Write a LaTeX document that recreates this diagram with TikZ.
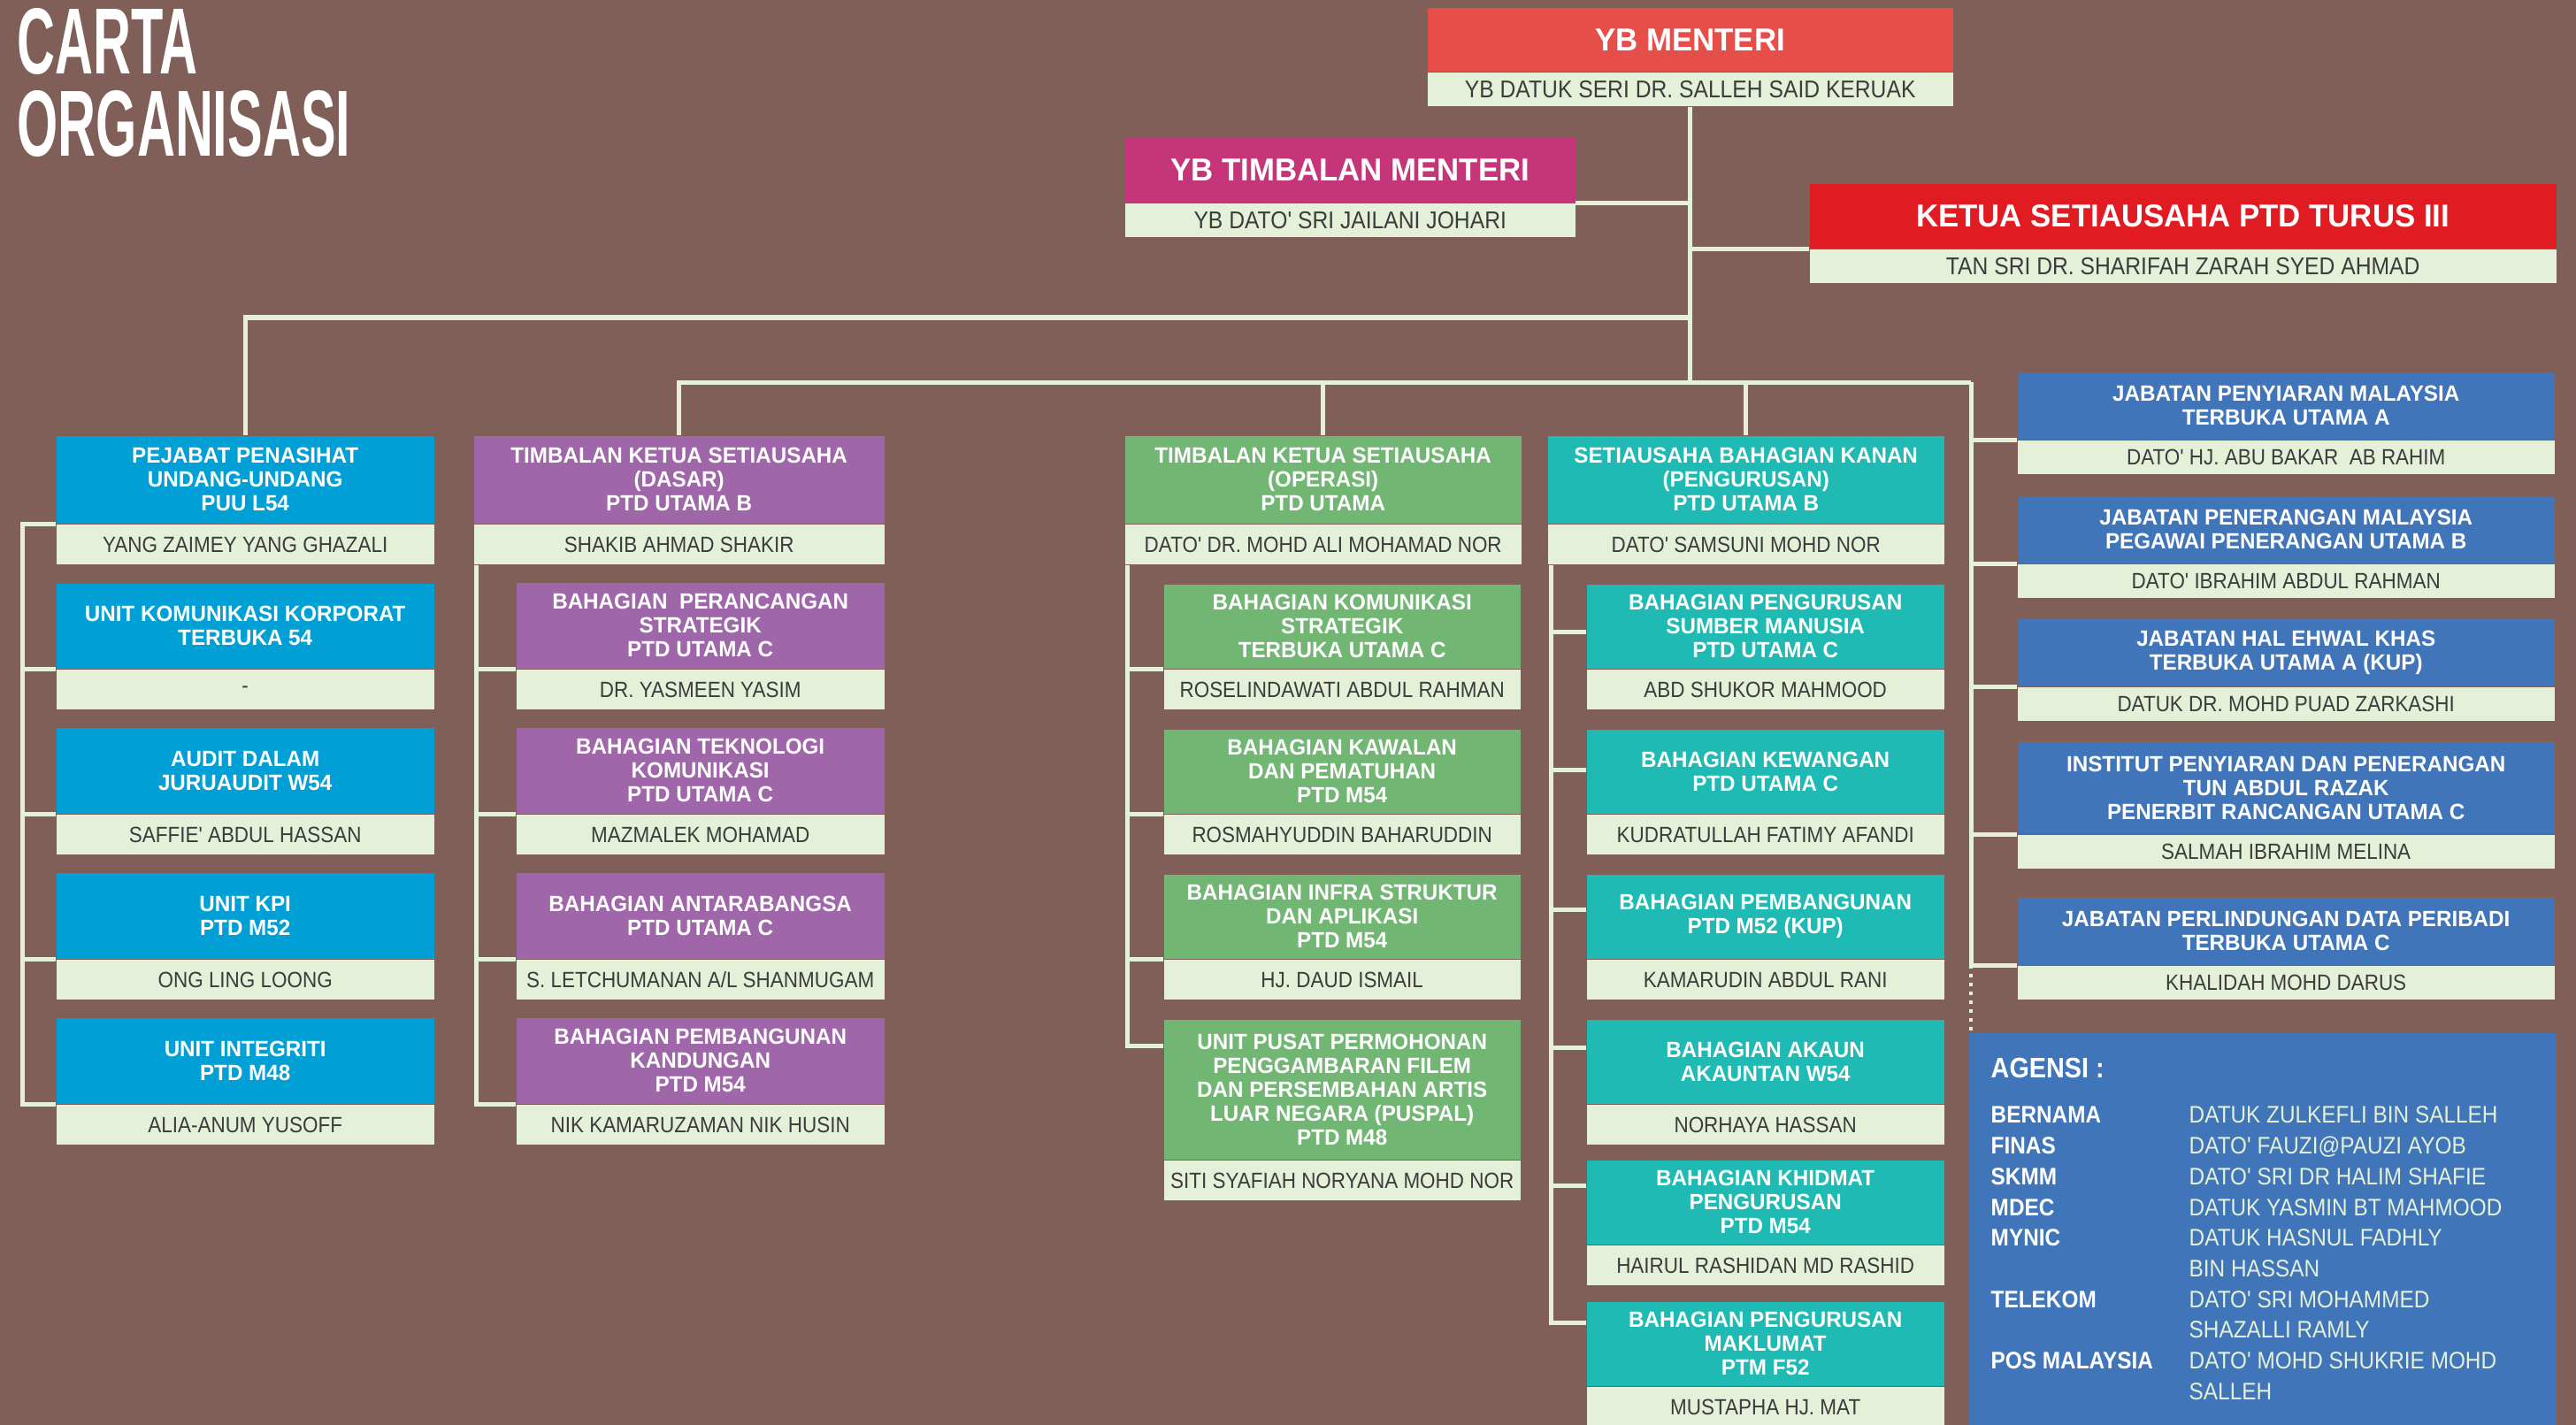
\documentclass[tikz,border=0pt]{standalone}
\usepackage{fontspec}
\usepackage{array}
\setmainfont{Liberation Sans}
\newfontfamily\hdfont{Liberation Sans}[FakeStretch=0.97]
\newfontfamily\nmfont{Liberation Sans}[FakeStretch=0.9]
\newfontfamily\ttlfont{Liberation Sans}[FakeStretch=0.56]

\definecolor{bgbrown}{HTML}{7F5F58}
\definecolor{cream}{HTML}{E4F0D8}
\definecolor{ink}{HTML}{3C3C3C}
\definecolor{mred}{HTML}{E64E4A}
\definecolor{mpink}{HTML}{C43679}
\definecolor{kred}{HTML}{E01B22}
\definecolor{cblue}{HTML}{00A0D6}
\definecolor{cpurple}{HTML}{A066AA}
\definecolor{cgreen}{HTML}{71B673}
\definecolor{cteal}{HTML}{1FBAB3}
\definecolor{cjab}{HTML}{4075BA}

\tikzset{
    hd/.style={text=white, font=\hdfont\bfseries\fontsize{7.1}{7.7}\selectfont, align=center, inner sep=0pt, anchor=north west},
    hdtop/.style={hd, font=\hdfont\bfseries\fontsize{10.2}{11}\selectfont},
    nm/.style={fill=cream, text=ink, font=\nmfont\fontsize{7.1}{8}\selectfont, inner sep=0pt, minimum height=0.45cm, anchor=north},
    nmr/.style={nm, minimum height=0.38cm},
    nmtop/.style={nmr, font=\nmfont\fontsize{7.8}{8.5}\selectfont},
    blueunit/.style={hd, fill=cblue},
    purpleunit/.style={hd, fill=cpurple},
    greenunit/.style={hd, fill=cgreen},
    tealunit/.style={hd, fill=cteal},
    jabunit/.style={hd, fill=cjab},
    link/.style={draw=cream, line width=0.05cm},
    dotline/.style={draw=cream, line width=0.045cm, dash pattern=on 0.04cm off 0.06cm},
    ttl/.style={text=white, font=\ttlfont\bfseries\fontsize{30.2}{26.5}\selectfont, align=left, inner sep=0pt, anchor=north west},
}

% header box + name strip under it
\newcommand{\unitbox}[8][nm]{%
  \node[#6, minimum width=#4cm, minimum height=#5cm] (#2) at (#3) {#7};
  \node[#1, minimum width=#4cm] (#2n) at (#2.south) {#8};%
}

\begin{document}
\begin{tikzpicture}
\useasboundingbox (0,0) rectangle (29.12,-16.11);
\clip (0,0) rectangle (29.12,-16.11);
\fill[bgbrown] (0,0) rectangle (29.12,-16.11);

\node[ttl] (carta) at (0.19,-0.09) {CARTA\\ORGANISASI};

\unitbox[nmtop]{menteri}{16.13,-0.08}{5.94}{0.72}{hdtop,fill=mred}{YB MENTERI}{YB DATUK SERI DR. SALLEH SAID KERUAK}
\unitbox[nmtop]{tmenteri}{12.71,-1.55}{5.09}{0.73}{hdtop,fill=mpink}{YB TIMBALAN MENTERI}{YB DATO' SRI JAILANI JOHARI}
\unitbox[nmtop]{ketua}{20.45,-2.07}{8.44}{0.73}{hdtop,fill=kred}{KETUA SETIAUSAHA PTD TURUS III}{TAN SRI DR. SHARIFAH ZARAH SYED AHMAD}

\unitbox{puu}{0.63,-4.92}{4.27}{0.99}{blueunit}{PEJABAT PENASIHAT\\UNDANG-UNDANG\\PUU L54}{YANG ZAIMEY YANG GHAZALI}
\unitbox{ukk}{0.63,-6.59}{4.27}{0.96}{blueunit}{UNIT KOMUNIKASI KORPORAT\\TERBUKA 54}{-}
\unitbox{audit}{0.63,-8.22}{4.27}{0.97}{blueunit}{AUDIT DALAM\\JURUAUDIT W54}{SAFFIE' ABDUL HASSAN}
\unitbox{kpi}{0.63,-9.86}{4.27}{0.97}{blueunit}{UNIT KPI\\PTD M52}{ONG LING LOONG}
\unitbox{integriti}{0.63,-11.50}{4.27}{0.97}{blueunit}{UNIT INTEGRITI\\PTD M48}{ALIA-ANUM YUSOFF}

\unitbox{dasar}{5.35,-4.92}{4.64}{0.99}{purpleunit}{TIMBALAN KETUA SETIAUSAHA\\(DASAR)\\PTD UTAMA B}{SHAKIB AHMAD SHAKIR}
\unitbox{strategik}{5.83,-6.58}{4.16}{0.97}{purpleunit}{BAHAGIAN \ PERANCANGAN\\STRATEGIK\\PTD UTAMA C}{DR. YASMEEN YASIM}
\unitbox{teknologi}{5.83,-8.22}{4.16}{0.97}{purpleunit}{BAHAGIAN TEKNOLOGI\\KOMUNIKASI\\PTD UTAMA C}{MAZMALEK MOHAMAD}
\unitbox{antarabangsa}{5.83,-9.86}{4.16}{0.97}{purpleunit}{BAHAGIAN ANTARABANGSA\\PTD UTAMA C}{S. LETCHUMANAN A/L SHANMUGAM}
\unitbox{kandungan}{5.83,-11.50}{4.16}{0.97}{purpleunit}{BAHAGIAN PEMBANGUNAN\\KANDUNGAN\\PTD M54}{NIK KAMARUZAMAN NIK HUSIN}

\unitbox{operasi}{12.71,-4.92}{4.48}{0.99}{greenunit}{TIMBALAN KETUA SETIAUSAHA\\(OPERASI)\\PTD UTAMA}{DATO' DR. MOHD ALI MOHAMAD NOR}
\unitbox{komstrat}{13.15,-6.60}{4.03}{0.95}{greenunit}{BAHAGIAN KOMUNIKASI\\STRATEGIK\\TERBUKA UTAMA C}{ROSELINDAWATI ABDUL RAHMAN}
\unitbox{kawalan}{13.15,-8.24}{4.03}{0.95}{greenunit}{BAHAGIAN KAWALAN\\DAN PEMATUHAN\\PTD M54}{ROSMAHYUDDIN BAHARUDDIN}
\unitbox{infra}{13.15,-9.88}{4.03}{0.95}{greenunit}{BAHAGIAN INFRA STRUKTUR\\DAN APLIKASI\\PTD M54}{HJ. DAUD ISMAIL}
\unitbox{puspal}{13.15,-11.52}{4.03}{1.58}{greenunit}{UNIT PUSAT PERMOHONAN\\PENGGAMBARAN FILEM\\DAN PERSEMBAHAN ARTIS\\LUAR NEGARA (PUSPAL)\\PTD M48}{SITI SYAFIAH NORYANA MOHD NOR}

\unitbox{pengurusan}{17.49,-4.92}{4.48}{0.99}{tealunit}{SETIAUSAHA BAHAGIAN KANAN\\(PENGURUSAN)\\PTD UTAMA B}{DATO' SAMSUNI MOHD NOR}
\unitbox{sumber}{17.93,-6.60}{4.04}{0.95}{tealunit}{BAHAGIAN PENGURUSAN\\SUMBER MANUSIA\\PTD UTAMA C}{ABD SHUKOR MAHMOOD}
\unitbox{kewangan}{17.93,-8.24}{4.04}{0.95}{tealunit}{BAHAGIAN KEWANGAN\\PTD UTAMA C}{KUDRATULLAH FATIMY AFANDI}
\unitbox{pembangunan}{17.93,-9.88}{4.04}{0.95}{tealunit}{BAHAGIAN PEMBANGUNAN\\PTD M52 (KUP)}{KAMARUDIN ABDUL RANI}
\unitbox{akaun}{17.93,-11.52}{4.04}{0.95}{tealunit}{BAHAGIAN AKAUN\\AKAUNTAN W54}{NORHAYA HASSAN}
\unitbox{khidmat}{17.93,-13.11}{4.04}{0.95}{tealunit}{BAHAGIAN KHIDMAT\\PENGURUSAN\\PTD M54}{HAIRUL RASHIDAN MD RASHID}
\unitbox{maklumat}{17.93,-14.71}{4.04}{0.95}{tealunit}{BAHAGIAN PENGURUSAN\\MAKLUMAT\\PTM F52}{MUSTAPHA HJ. MAT}

\unitbox[nmr]{penyiaran}{22.80,-4.20}{6.07}{0.76}{jabunit}{JABATAN PENYIARAN MALAYSIA\\TERBUKA UTAMA A}{DATO' HJ. ABU BAKAR \ AB RAHIM}
\unitbox[nmr]{penerangan}{22.80,-5.60}{6.07}{0.76}{jabunit}{JABATAN PENERANGAN MALAYSIA\\PEGAWAI PENERANGAN UTAMA B}{DATO' IBRAHIM ABDUL RAHMAN}
\unitbox[nmr]{ehwal}{22.80,-6.99}{6.07}{0.76}{jabunit}{JABATAN HAL EHWAL KHAS\\TERBUKA UTAMA A (KUP)}{DATUK DR. MOHD PUAD ZARKASHI}
\unitbox[nmr]{institut}{22.80,-8.38}{6.07}{1.04}{jabunit}{INSTITUT PENYIARAN DAN PENERANGAN\\TUN ABDUL RAZAK\\PENERBIT RANCANGAN UTAMA C}{SALMAH IBRAHIM MELINA}
\unitbox[nmr]{perlindungan}{22.80,-10.14}{6.07}{0.76}{jabunit}{JABATAN PERLINDUNGAN DATA PERIBADI\\TERBUKA UTAMA C}{KHALIDAH MOHD DARUS}

\node[fill=cjab, anchor=north west, inner sep=0pt, minimum width=6.64cm, minimum height=4.6cm] (agensi) at (22.25,-11.67) {};
\node[anchor=base west, inner sep=0pt, text=white, font=\nmfont\bfseries\fontsize{9.1}{10}\selectfont] (agtitle) at (22.50,-12.18) {AGENSI :};
\node[anchor=north west, inner sep=0pt, text=white, font=\nmfont\fontsize{7.7}{9.87}\selectfont] (aglist) at (22.50,-12.45) {%
\begin{tabular}{@{}>{\bfseries}p{2.24cm}@{}>{\color{cream}}l@{}}
BERNAMA & DATUK ZULKEFLI BIN SALLEH\\
FINAS & DATO' FAUZI@PAUZI AYOB\\
SKMM & DATO' SRI DR HALIM SHAFIE\\
MDEC & DATUK YASMIN BT MAHMOOD\\
MYNIC & DATUK HASNUL FADHLY\\
 & BIN HASSAN\\
TELEKOM & DATO' SRI MOHAMMED\\
 & SHAZALLI RAMLY\\
POS MALAYSIA & DATO' MOHD SHUKRIE MOHD\\
 & SALLEH
\end{tabular}};

\coordinate (bus1) at (19.10,-3.59);
\coordinate (rbus) at (22.28,-4.32);

\draw[link] (menterin.south) -- (menterin.south |- rbus);
\draw[link] (tmenteri.south east) -- (tmenteri.south east -| menterin.south);
\draw[link] (ketua.south west) -- (ketua.south west -| menterin.south);
\draw[link] (puu.north) |- (bus1);
\draw[link] (dasar.north) |- (rbus);
\draw[link] (operasi.north) -- (operasi.north |- rbus);
\draw[link] (pengurusan.north) -- (pengurusan.north |- rbus);

\draw[link] (puu.south west) -- ++(-0.38,0) coordinate (c1) |- (integriti.south west);
\foreach \n in {ukk,audit,kpi}
  \draw[link] (\n.south west) -- (\n.south west -| c1);

\draw[link] ([xshift=0.03cm]dasarn.south west) coordinate (c2) |- (kandungan.south west);
\foreach \n in {strategik,teknologi,antarabangsa}
  \draw[link] (\n.south west) -- (\n.south west -| c2);

\draw[link] ([xshift=0.03cm]operasin.south west) coordinate (c3) |- ([yshift=-0.30cm]puspal.north west);
\foreach \n in {komstrat,kawalan,infra}
  \draw[link] (\n.south west) -- (\n.south west -| c3);

\draw[link] ([xshift=0.04cm]pengurusann.south west) coordinate (c4) |- ([yshift=-0.24cm]maklumat.north west);
\foreach \n/\d in {sumber/0.54,kewangan/0.46,pembangunan/0.40,akaun/0.32,khidmat/0.29}
  \draw[link] ([yshift=-\d cm]\n.north west) -- ([yshift=-\d cm]\n.north west -| c4);

\draw[link] (rbus) |- (perlindungan.south west);
\foreach \n in {penyiaran,penerangan,ehwal,institut}
  \draw[link] (\n.south west) -- (\n.south west -| rbus);
\draw[dotline] (rbus |- perlindungan.south west) -- (rbus |- agensi.north);
\end{tikzpicture}
\end{document}
